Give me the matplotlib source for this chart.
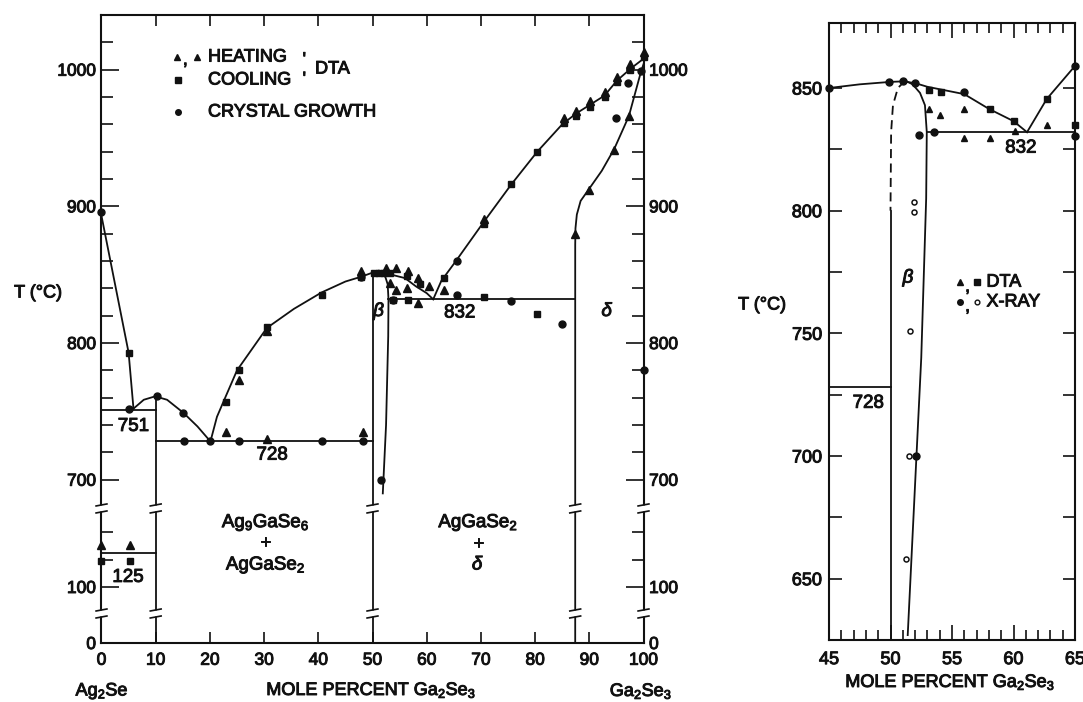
import numpy as np
import matplotlib.pyplot as plt
import matplotlib.patheffects as pe
from matplotlib.text import Text

plt.rcParams["font.family"] = ["Liberation Sans", "DejaVu Sans"]
plt.rcParams["mathtext.fontset"] = "custom"
plt.rcParams["mathtext.rm"] = "Liberation Sans"
plt.rcParams["mathtext.it"] = "Liberation Sans:italic"
plt.rcParams["mathtext.bf"] = "Liberation Sans:bold"

INK = "#111111"

# ---------------- left panel: whole Ag2Se - Ga2Se3 section ----------------
# broken temperature axis: 0-100 squeezed, 157-683 cut out
T_KNOTS = [0, 100, 157, 683, 1100]
U_KNOTS = [0, 56, 134, 140, 709.8]

# phase boundaries (mole % Ga2Se3, deg C)
liq_a_x = [0, 5.0, 5.9]
liq_a_t = [893, 793, 752]
dome_x = [5.9, 7.8, 9.9, 12.1, 15.1, 17.7, 20.1]
dome_t = [752, 758.5, 761, 758.5, 749, 739, 728]
liq_b_x = [20.1, 21.3, 22.6, 25.0, 30.5, 35.5, 40.6, 45.0, 47.9, 50.0, 51.0,
           52.0, 53.0, 54.0, 56.0, 58.0, 60.0, 61.2]
liq_b_t = [728, 746, 758, 780, 811, 825, 837, 845, 848.5, 851.5, 852.5,
           852, 850.5, 849.5, 847.5, 841.5, 836.5, 832]
liq_d_x = [61.2, 62.7, 65.3, 70.6, 75.6, 80.4, 85.0, 87.6, 90.0, 92.8, 95.1, 97.7, 100]
liq_d_t = [832, 845.5, 859.5, 889, 916, 940, 960, 968, 974, 981, 992, 1001, 1008]
solvus_d_x = [87.4, 87.4, 87.45, 87.7, 88.4, 90.0, 92.3, 94.6, 97.3, 99.5, 100]
solvus_d_t = [0, 872, 884, 894, 904, 913, 926, 942, 966, 998, 1004]
beta_r_x = [51.2, 51.8, 52.4, 52.8, 52.95, 52.9, 52.5, 51.9]
beta_r_t = [853, 851.5, 848, 843, 832, 805, 740, 690]
v10_x, v10_t = [10, 10], [0, 761]
v50_x, v50_t = [50, 50], [0, 851.5]
h751_x, h751_t = [0, 10], [751, 751]
h125_x, h125_t = [0, 10], [125, 125]
h728_x, h728_t = [10, 50], [728, 728]
h832_x, h832_t = [52.95, 87.4], [832, 832]

# DTA heating (triangles)
heat_x = [0, 5.2, 23.0, 25.3, 30.5, 30.5, 48.2, 47.9, 52.5, 54.4, 56.5, 58.4,
          60.5, 53.2, 54.4, 56.3, 58.4, 63.1, 85.3, 87.6, 90.2, 92.9, 95.1,
          97.6, 100, 87.4, 90.0, 94.6, 97.3, 70.6]
heat_t = [131, 131, 735, 773, 809, 730, 735, 853, 855, 855, 852.5, 847.5,
          841.5, 844, 839, 840, 829, 839, 965, 970, 977, 984, 995,
          1004, 1013, 880, 912, 941, 966, 891]
# DTA cooling (squares)
cool_x = [0, 5.2, 5.0, 23.0, 25.3, 30.5, 40.6, 47.9, 50.3, 51.2, 52.2, 53.2,
          56.3, 58.7, 63.1, 53.8, 56.5, 70.5, 80.4, 75.6, 80.4, 85.3, 87.6,
          90.2, 92.9, 95.1, 97.6, 100, 70.6]
cool_t = [119, 119, 793, 757, 780, 812, 835, 848.5, 851.5, 851.5, 851.5, 851,
          849, 843, 847.5, 831.5, 831.5, 833.5, 821.5, 916, 940, 961, 966,
          973, 980, 991, 1000, 1009, 887]
# crystal growth (dots)
grow_x = [0, 5.0, 10.3, 15.1, 15.3, 20.1, 25.3, 40.6, 48.2, 47.9, 51.6,
          53.7, 65.5, 75.6, 85.0, 65.5, 94.9, 97.2, 99.5, 100]
grow_t = [896, 751.5, 761, 749, 728, 728, 728, 728, 728, 848, 700,
          831.5, 835, 831, 814, 860, 965, 990, 999, 780]

left_xticks = list(range(0, 101, 10))
left_yticks = [0, 100, 700, 800, 900, 1000]
left_yminor = [120, 140, 720, 740, 760, 780, 820, 840, 860, 880,
               920, 940, 960, 980, 1020]
break_x = [0, 10, 50, 87.4, 100]
break_u = [29.5, 134.5]

# ---------------- right panel: 45-65 mol % enlarged ----------------
r_liq_x = [45, 47.5, 50.0, 51.0, 52.0, 53.0, 54.0, 56.0, 58.0, 60.0, 61.1]
r_liq_t = [850, 851.5, 852.5, 852.7, 852, 850.5, 849.5, 847.5, 841.5, 836.5, 832]
r_liq2_x = [61.1, 62.7, 65.0]
r_liq2_t = [832, 845.5, 859]
r_dash_x = [51.2, 50.6, 50.2, 50.05, 50.0]
r_dash_t = [853, 850, 843, 832, 800]
r_left_x, r_left_t = [50.0, 50.0], [800, 625]
r_right_x = [51.2, 51.8, 52.4, 52.8, 52.95, 52.9, 52.5, 51.4]
r_right_t = [853, 851.5, 848, 843, 832, 805, 740, 627]
r_h832_x, r_h832_t = [52.95, 65], [832, 832]
r_h728_x, r_h728_t = [45, 50], [728, 728]

r_tri_x = [53.1, 54.0, 56.0, 56.0, 58.1, 60.1, 62.7]
r_tri_t = [841.5, 839, 841.5, 829.5, 829.5, 832.5, 835]
r_sq_x = [53.1, 54.1, 58.1, 60.0, 62.7, 65.0]
r_sq_t = [849, 848.5, 841.5, 836.5, 845.5, 835]
r_dot_x = [45, 49.9, 51.0, 52.0, 56.0, 65.0, 52.3, 53.5, 52.1, 65.0]
r_dot_t = [850, 852.5, 852.7, 852, 848.5, 859, 831, 832, 700, 830.5]
r_open_x = [51.95, 51.95, 51.6, 51.5, 51.3]
r_open_t = [803.5, 799.5, 751, 700, 658]


def _pw(v, xs, ys):
    v = np.asarray(v, dtype=float)
    out = np.interp(v, xs, ys)
    lo_slope = (ys[1] - ys[0]) / (xs[1] - xs[0])
    hi_slope = (ys[-1] - ys[-2]) / (xs[-1] - xs[-2])
    out = np.where(v < xs[0], ys[0] + (v - xs[0]) * lo_slope, out)
    out = np.where(v > xs[-1], ys[-1] + (v - xs[-1]) * hi_slope, out)
    return out


def fwd(t):
    return _pw(t, T_KNOTS, U_KNOTS)


def inv(u):
    return _pw(u, U_KNOTS, T_KNOTS)


def line(ax, x, t, **kw):
    ax.plot(x, t, color=INK, lw=1.3, zorder=3, clip_on=False, **kw)


fig = plt.figure(figsize=(10.83, 7.02), dpi=100)
axL = fig.add_axes([101.5 / 1083, 59 / 702, 542 / 1083, 628 / 702])
axR = fig.add_axes([829 / 1083, 62 / 702, 246 / 1083, 617 / 702])

# ---- left ----
axL.set_yscale("function", functions=(fwd, inv))
axL.set_xlim(0, 100)
axL.set_ylim(0, 1040)

for x, t in [(liq_a_x, liq_a_t), (dome_x, dome_t), (liq_b_x, liq_b_t),
             (liq_d_x, liq_d_t), (solvus_d_x, solvus_d_t), (beta_r_x, beta_r_t),
             (v10_x, v10_t), (v50_x, v50_t), (h751_x, h751_t),
             (h125_x, h125_t), (h728_x, h728_t), (h832_x, h832_t)]:
    line(axL, x, t)

mk = dict(color=INK, ls="none", zorder=4, clip_on=False)
axL.plot(cool_x, cool_t, marker="s", ms=4.8, **mk)
axL.plot(heat_x, heat_t, marker="^", ms=5.2, **mk)
axL.plot(grow_x, grow_t, marker="o", ms=5, **mk)

# axis breaks
for xb in break_x:
    for uc in break_u:
        axL.plot([xb, xb], inv([uc - 3, uc + 3]), color="white", lw=3.5,
                 zorder=5, clip_on=False, solid_capstyle="butt")
        for du in (-3.5, 3.5):
            axL.plot([xb - 1.0, xb + 1.0], inv([uc + du - 1.0, uc + du + 1.0]),
                     color=INK, lw=1.2, zorder=6, clip_on=False)

axL.set_xticks(left_xticks)
axL.set_yticks(left_yticks)
axL.set_yticks(left_yminor, minor=True)
axL.set_yticklabels([str(v) for v in left_yticks])
axL.tick_params(axis="x", which="major", direction="in", length=8, width=1.2,
                top=True, bottom=True, labelsize=12.5, pad=7, colors=INK)
axL.tick_params(axis="y", which="major", direction="in", length=13, width=1.2,
                left=True, right=True, labelleft=True, labelright=True,
                labelsize=12.5, pad=4, colors=INK)
axL.tick_params(axis="y", which="minor", direction="in", length=8.5, width=1.2,
                left=True, right=True, colors=INK)
axL.xaxis.set_minor_locator(plt.NullLocator())
for s in axL.spines.values():
    s.set_linewidth(1.5)
    s.set_color(INK)

tx = dict(color=INK, fontsize=13.5, ha="center", va="center")
axL.text(5.9, 739, "751", **tx)
axL.text(31.5, 718, "728", **tx)
axL.text(4.9, 107, "125", **tx)
axL.text(30.3, 147, "Ag$_9$GaSe$_6$", **tx)
axL.text(30.3, 132, "+", **tx)
axL.text(30.3, 116, "AgGaSe$_2$", **tx)
axL.text(69.5, 147, "AgGaSe$_2$", **tx)
axL.text(69.5, 131, "+", **tx)
axL.text(69.5, 116, "$\\delta$", **tx)
axL.text(51.3, 823, "$\\beta$", **tx)
axL.text(66.1, 822, "832", **tx)
axL.text(93.4, 823, "$\\delta$", **tx)

# legend block
lg = dict(color=INK, ls="none", transform=axL.transAxes, clip_on=False)
axL.plot([0.139], [0.933], marker="^", ms=3.8, **lg)
axL.plot([0.176], [0.933], marker="^", ms=5, **lg)
axL.plot([0.141], [0.8965], marker="s", ms=4.6, **lg)
axL.plot([0.141], [0.8455], marker="o", ms=4, **lg)
lt = dict(color=INK, fontsize=13, va="center", ha="left", transform=axL.transAxes)
axL.text(0.150, 0.928, ",", **lt)
axL.text(0.1965, 0.933, "HEATING", **lt)
axL.text(0.1965, 0.8965, "COOLING", **lt)
axL.text(0.1965, 0.8455, "CRYSTAL GROWTH", **lt)
axL.text(0.394, 0.914, "DTA", **lt)
axL.text(0.371, 0.928, "'", **lt)
axL.text(0.371, 0.897, "'", **lt)

fig.text(38 / 1083, 1 - 293 / 702, "T (°C)", fontsize=13, ha="center", va="center", color=INK)
fig.text(102 / 1083, 1 - 691 / 702, "Ag$_2$Se", fontsize=13, ha="center", va="center", color=INK)
fig.text(371 / 1083, 1 - 690 / 702, "MOLE PERCENT Ga$_2$Se$_3$", fontsize=13,
         ha="center", va="center", color=INK)
fig.text(641 / 1083, 1 - 691 / 702, "Ga$_2$Se$_3$", fontsize=13, ha="center", va="center", color=INK)

# ---- right ----
axR.set_xlim(45, 65)
axR.set_ylim(625, 876.5)
for x, t in [(r_liq_x, r_liq_t), (r_liq2_x, r_liq2_t), (r_left_x, r_left_t),
             (r_right_x, r_right_t), (r_h832_x, r_h832_t), (r_h728_x, r_h728_t)]:
    line(axR, x, t)
axR.plot(r_dash_x, r_dash_t, color=INK, lw=1.3, ls=(0, (5, 3)), zorder=3)

axR.plot(r_sq_x, r_sq_t, marker="s", ms=4.6, **mk)
axR.plot(r_tri_x, r_tri_t, marker="^", ms=5, **mk)
axR.plot(r_dot_x, r_dot_t, marker="o", ms=5, **mk)
axR.plot(r_open_x, r_open_t, marker="o", ms=3.6, mfc="white", mew=1.1,
         color=INK, ls="none", zorder=4)

axR.set_xticks([45, 50, 55, 60, 65])
axR.set_xticks(np.arange(46, 65, 1), minor=True)
axR.set_yticks([650, 700, 750, 800, 850])
axR.set_yticks([675, 725, 775, 825], minor=True)
axR.tick_params(axis="x", which="major", direction="in", length=11, width=1.2,
                top=True, bottom=True, labelsize=13, pad=8, colors=INK)
axR.tick_params(axis="x", which="minor", direction="in", length=7, width=1.2,
                top=True, bottom=True, colors=INK)
axR.tick_params(axis="y", which="both", direction="in", length=9, width=1.2,
                left=True, right=True, labelsize=13, pad=5, colors=INK)
for s in axR.spines.values():
    s.set_linewidth(1.5)
    s.set_color(INK)

axR.text(51.5, 772.5, "$\\beta$", **tx)
axR.text(60.6, 825.5, "832", **tx)
axR.text(48.2, 721.5, "728", **tx)
lg2 = dict(color=INK, ls="none", transform=axR.transAxes, clip_on=False)
axR.plot([0.5325], [0.580], marker="^", ms=4.4, **lg2)
axR.plot([0.600], [0.580], marker="s", ms=4.2, **lg2)
axR.plot([0.5325], [0.548], marker="o", ms=4, **lg2)
axR.plot([0.600], [0.548], marker="o", ms=3.4, mfc="white", mew=1.0,
         color=INK, ls="none", transform=axR.transAxes)
lt2 = dict(color=INK, fontsize=13, va="center", ha="left", transform=axR.transAxes)
axR.text(0.553, 0.572, ",", **lt2)
axR.text(0.553, 0.540, ",", **lt2)
axR.text(0.640, 0.580, "DTA", **lt2)
axR.text(0.640, 0.548, "X-RAY", **lt2)

fig.text(762 / 1083, 1 - 305 / 702, "T (°C)", fontsize=13, ha="center", va="center", color=INK)
fig.text(950 / 1083, 1 - 682 / 702, "MOLE PERCENT Ga$_2$Se$_3$", fontsize=13,
         ha="center", va="center", color=INK)

# the scanned original has heavy lettering: thicken every text a little
for t in fig.findobj(Text):
    t.set_path_effects([pe.withStroke(linewidth=0.7, foreground=INK)])

fig.savefig("out.png", dpi=100)
